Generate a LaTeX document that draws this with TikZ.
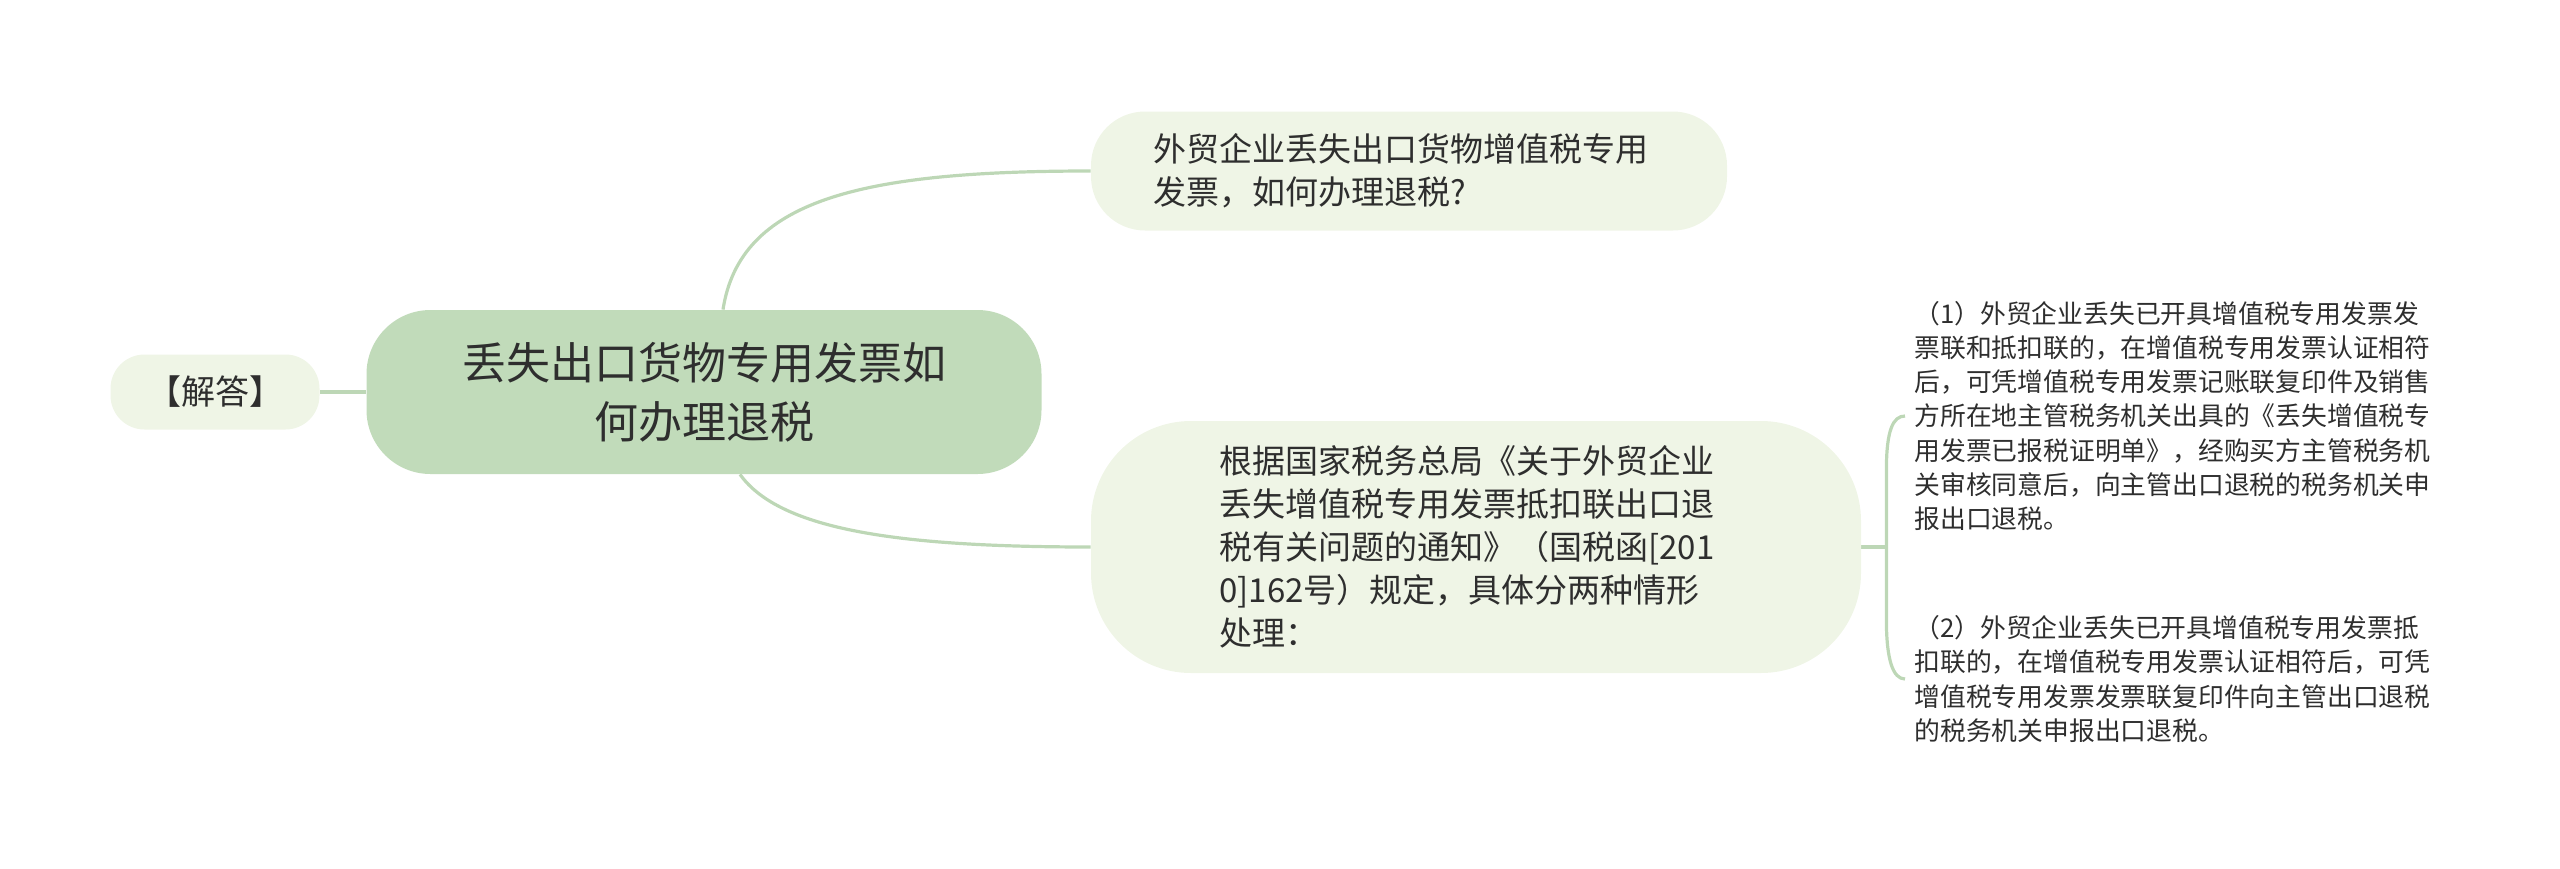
\documentclass[tikz,border=0pt]{standalone}
\usepackage{fontspec}
\newfontfamily\cjk{Noto Sans CJK SC}
\usetikzlibrary{calc,backgrounds}
\definecolor{rootc}{HTML}{C1DBBA}
\definecolor{lightc}{HTML}{EFF5E6}
\definecolor{linec}{HTML}{BDD7B6}
\definecolor{txt}{HTML}{2E2E2E}
\begin{document}
\begin{tikzpicture}[x=0.5pt,y=-0.5pt,
  conn/.style={draw=linec,line width=1.6pt},
  rootbox/.style={fill=rootc,rounded corners=32pt,minimum width=337.5pt,minimum height=82pt,
    align=center,font=\cjk\fontsize{22}{29.5}\selectfont,text=txt,inner sep=0pt},
  ansbox/.style={fill=lightc,rounded corners=17pt,minimum width=104.5pt,minimum height=37.5pt,
    align=center,font=\cjk\fontsize{17}{20}\selectfont,text=txt,inner sep=0pt},
  midbox/.style={fill=lightc,align=left,font=\cjk\fontsize{16.5}{21.5}\selectfont,text=txt,inner sep=0pt},
  leafbox/.style={anchor=west,align=left,font=\cjk\fontsize{12.9}{17.1}\selectfont,text=txt,
    inner xsep=4.5pt,inner ysep=2pt}
]
\useasboundingbox (0,0) rectangle (2560,868);
\node[rootbox] (root) at (704,392) {丢失出口货物专用发票如\\何办理退税};
\node[ansbox] (ans) at (215,392) {【解答】};
\node[midbox,rounded corners=27pt,minimum width=318pt,minimum height=59.5pt] (q) at (1409,171)
  {外贸企业丢失出口货物增值税专用\hspace*{8pt}\\发票，如何办理退税?};
\node[midbox,rounded corners=50pt,minimum width=385pt,minimum height=126pt] (b) at (1476,547)
  {根据国家税务总局《关于外贸企业\hspace*{9pt}\\丢失增值税专用发票抵扣联出口退\\税有关问题的通知》（国税函[201\\0]162号）规定，具体分两种情形\\处理：};
\node[leafbox] (l1) at (1905,416)
  {（1）外贸企业丢失已开具增值税专用发票发\\票联和抵扣联的，在增值税专用发票认证相符\\后，可凭增值税专用发票记账联复印件及销售\\方所在地主管税务机关出具的《丢失增值税专\\用发票已报税证明单》，经购买方主管税务机\\关审核同意后，向主管出口退税的税务机关申\\报出口退税。};
\node[leafbox] (l2) at (1905,679)
  {（2）外贸企业丢失已开具增值税专用发票抵\\扣联的，在增值税专用发票认证相符后，可凭\\增值税专用发票发票联复印件向主管出口退税\\的税务机关申报出口退税。};
\begin{scope}[on background layer]
  \draw[conn] (ans.east) -- (root.west);
  \draw[conn] ($(root.north)+(19,0)$) .. controls ($(root.north)+(36,-110)$) and ($(q.west)+(-230,0)$) .. (q.west);
  \draw[conn] ($(root.south)+(36,0)$) .. controls ($(root.south)+(76,56)$) and ($(b.west)+(-190,0)$) .. (b.west);
  \draw[conn] (b.east) -- ++(25,0) coordinate (bk);
  \draw[conn] (bk) -- ($(bk)+(0,-77)$) .. controls ($(bk)+(0,-117)$) and ($(l1.west)+(-12,0)$) .. (l1.west);
  \draw[conn] (bk) -- ($(bk)+(0,73)$) .. controls ($(bk)+(0,113)$) and ($(l2.west)+(-12,0)$) .. (l2.west);
\end{scope}
\end{tikzpicture}
\end{document}
